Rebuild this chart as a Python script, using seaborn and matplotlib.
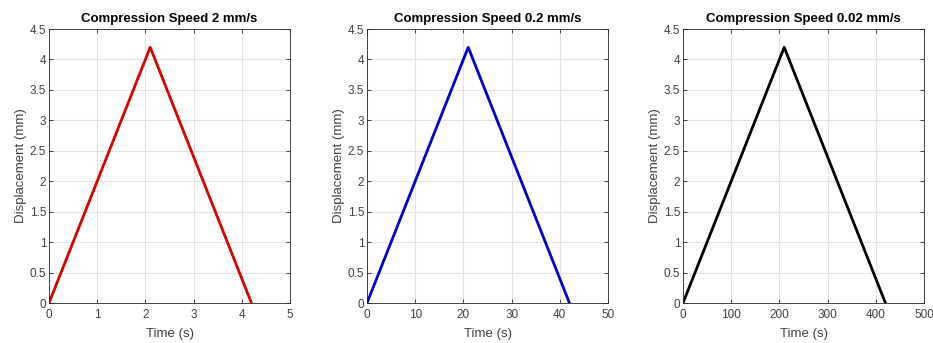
import matplotlib
matplotlib.use("Agg")
import matplotlib.pyplot as plt
import seaborn as sns
import pandas as pd

# Loading/unloading cycles at three compression speeds
speeds = ["2", "0.2", "0.02"]
time_s = [
    [0, 2.1, 4.2],
    [0, 21, 42],
    [0, 210, 420],
]
displacement_mm = [0, 4.2, 0]
x_limits = [5, 50, 500]
x_ticks = [
    [0, 1, 2, 3, 4, 5],
    [0, 10, 20, 30, 40, 50],
    [0, 100, 200, 300, 400, 500],
]
y_ticks = [0, 0.5, 1, 1.5, 2, 2.5, 3, 3.5, 4, 4.5]
line_colors = ["#d80000", "#0000cc", "#000000"]

sns.set_theme(style="ticks")
plt.rcParams["font.family"] = ["Liberation Sans", "DejaVu Sans"]

fig = plt.figure(figsize=(9.33, 3.43), dpi=100)
W, H = 933, 343
lefts = [49, 367, 683]
ax_w = 241
ax_top, ax_bot = 29, 303

for i, speed in enumerate(speeds):
    ax = fig.add_axes([lefts[i] / W, 1 - ax_bot / H, ax_w / W, (ax_bot - ax_top) / H])
    df = pd.DataFrame({"Time (s)": time_s[i], "Displacement (mm)": displacement_mm})
    sns.lineplot(data=df, x="Time (s)", y="Displacement (mm)", ax=ax,
                 color=line_colors[i], linewidth=2.0, sort=False)
    ax.set_xlim(0, x_limits[i])
    ax.set_ylim(0, 4.5)
    ax.set_xticks(x_ticks[i])
    ax.set_yticks(y_ticks)
    ax.set_yticklabels([f"{v:g}" for v in y_ticks])
    ax.grid(True, color="#e2e2e2", linewidth=0.8)
    ax.set_axisbelow(True)
    ax.tick_params(direction="in", top=True, right=True, length=3, width=0.6,
                   colors="#262626", labelsize=8.5)
    ax.tick_params(axis="x", pad=4)
    ax.tick_params(axis="y", pad=2)
    ax.tick_params(axis="both", labelcolor="#404040")
    for sp in ax.spines.values():
        sp.set_color("#262626")
        sp.set_linewidth(0.6)
    ax.set_xlabel("Time (s)", fontsize=9.5, color="#404040", labelpad=5)
    ax.set_ylabel("Displacement (mm)", fontsize=9.5, color="#404040", labelpad=2)
    ax.set_title(f"Compression Speed {speed} mm/s", fontsize=9.5,
                 fontweight="bold", color="#000000", pad=5)

fig.savefig("out.png", dpi=100)
